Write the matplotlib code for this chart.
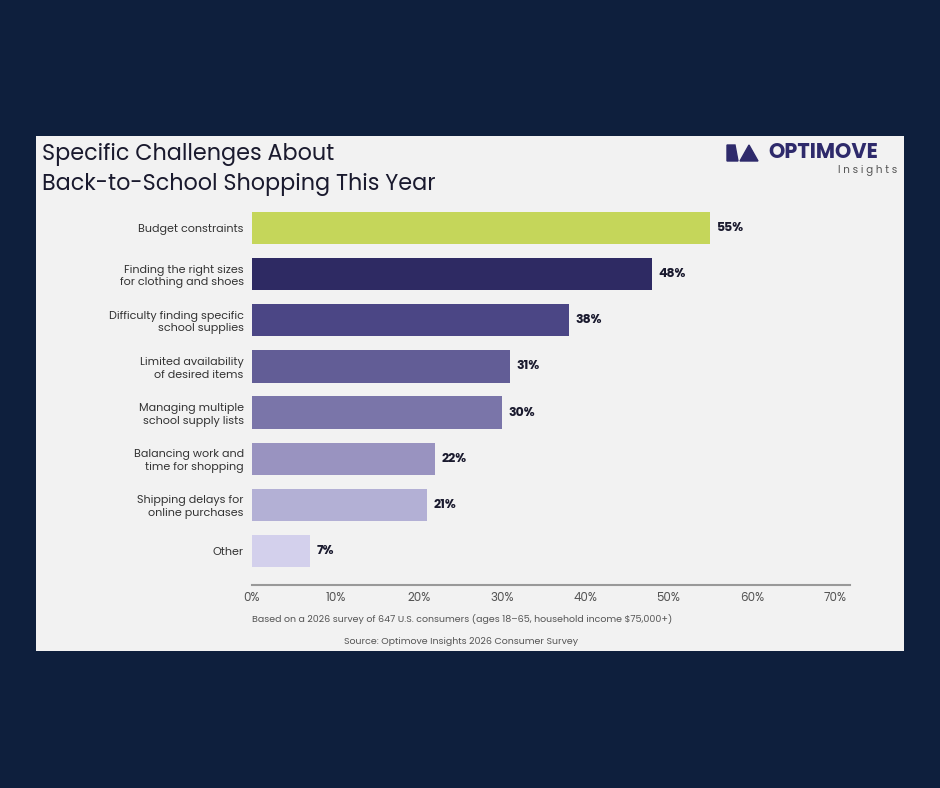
import matplotlib.pyplot as plt
from matplotlib.patches import Rectangle, Polygon

labels = ["Budget constraints", "Finding the right sizes\nfor clothing and shoes",
          "Difficulty finding specific\nschool supplies", "Limited availability\nof desired items",
          "Managing multiple\nschool supply lists", "Balancing work and\ntime for shopping",
          "Shipping delays for\nonline purchases", "Other"]
values = [55, 48, 38, 31, 30, 22, 21, 7]
colors = ["#c5d65a", "#2e2a63", "#4b4685", "#625d96", "#7a75a9", "#9993c0", "#b3b0d5", "#d3d0ec"]
ticks = [0, 10, 20, 30, 40, 50, 60, 70]

plt.rcParams['font.family'] = ['Poppins', 'Lato', 'DejaVu Sans']
W, H = 940, 788
fig = plt.figure(figsize=(W / 100, H / 100), dpi=100)
fig.patch.set_facecolor("#0e1f3d")
fig.patches.append(Rectangle((36 / W, 1 - 651 / H), 868 / W, 515 / H, transform=fig.transFigure,
                             facecolor="#f2f2f2", edgecolor="none", zorder=-5))

ax = fig.add_axes([252 / W, 1 - 585 / H, 598 / W, 380 / H])
ax.set_zorder(2)
ax.set_facecolor("none")
ax.barh(range(len(values)), values, height=0.7, color=colors)
for i, v in enumerate(values):
    ax.text(v + 0.8, i, f"{v}%", va="center", ha="left", fontsize=9, fontweight="bold", color="#1a1a2e")
ax.set_xlim(0, 598 / 8.33)
ax.set_ylim(7.74, -0.5)
ax.set_yticks(range(len(labels)))
ax.set_yticklabels(labels, fontsize=8, color="#333333")
ax.set_xticks(ticks)
ax.set_xticklabels([f"{t}%" for t in ticks], fontsize=8.5, color="#555555")
ax.tick_params(length=0, pad=5)
ax.tick_params(axis="y", pad=6)
for s in ["top", "right", "left"]:
    ax.spines[s].set_visible(False)
ax.spines["bottom"].set_color("#999999")
ax.spines["bottom"].set_linewidth(1.5)

fig.text(42 / W, 1 - 154 / H, "Specific Challenges About", fontsize=16, color="#1a1a2e",
         va="center", ha="left")
fig.text(42 / W, 1 - 184 / H, "Back-to-School Shopping This Year", fontsize=16, color="#1a1a2e",
         va="center", ha="left")
fig.text(768 / W, 1 - 153 / H, "OPTIMOVE", fontsize=15, fontweight="bold", color="#2e2a6b",
         va="center", ha="left")
fig.text(897 / W, 1 - 170 / H, "I n s i g h t s", fontsize=7.5, color="#555555", va="center", ha="right")
fig.patches.append(Polygon([(727 / W, 1 - 145 / H), (735 / W, 1 - 145 / H), (738 / W, 1 - 161 / H),
                            (727 / W, 1 - 161 / H)], transform=fig.transFigure, color="#2e2a6b"))
fig.patches.append(Polygon([(740 / W, 1 - 161 / H), (749 / W, 1 - 145 / H), (758 / W, 1 - 161 / H)],
                           transform=fig.transFigure, color="#2e2a6b"))
fig.text(252 / W, 1 - 619 / H,
         "Based on a 2026 survey of 647 U.S. consumers (ages 18\u201365, household income $75,000+)",
         fontsize=6.8, color="#555555", va="center", ha="left")
fig.text(344 / W, 1 - 641 / H, "Source: Optimove Insights 2026 Consumer Survey",
         fontsize=6.8, color="#555555", va="center", ha="left")

fig.savefig("out.png", dpi=100, facecolor=fig.get_facecolor())
